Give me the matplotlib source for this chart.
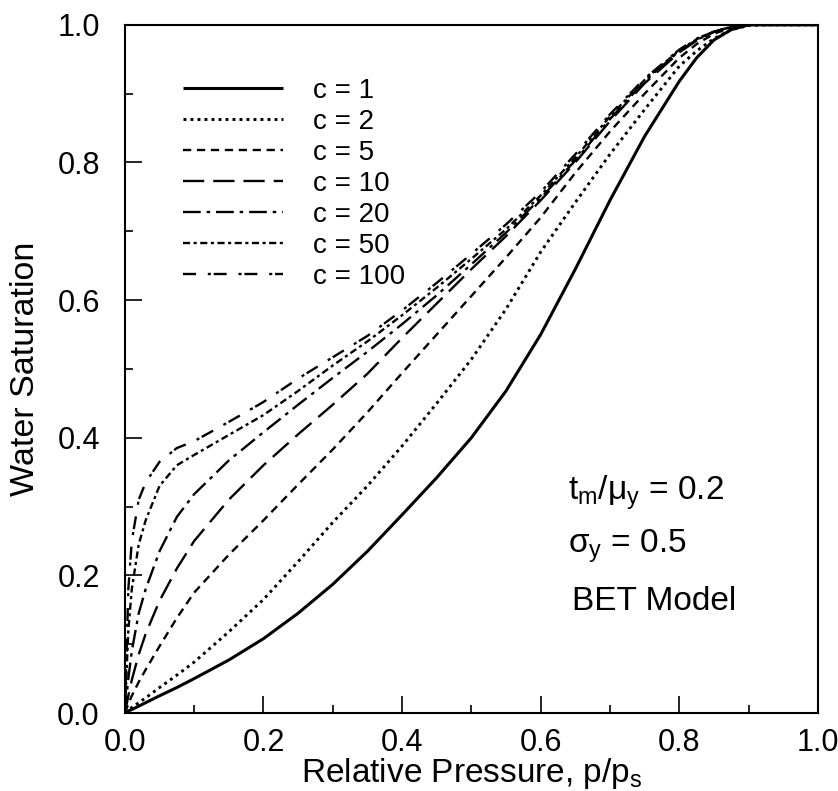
import matplotlib
matplotlib.use('Agg')
import matplotlib.pyplot as plt

plt.rcParams['font.family'] = ['Liberation Sans', 'DejaVu Sans']
plt.rcParams['mathtext.fontset'] = 'custom'
plt.rcParams['mathtext.rm'] = 'Liberation Sans'
plt.rcParams['mathtext.it'] = 'Liberation Sans'

# relative pressure p/ps
p = [0, 0.005, 0.01, 0.02, 0.03, 0.05, 0.075, 0.1, 0.15, 0.2, 0.25, 0.3, 0.35, 0.4, 0.45,
     0.5, 0.55, 0.6, 0.65, 0.7, 0.75, 0.8, 0.825, 0.85, 0.875, 0.9, 0.925, 0.95, 1.0]

# water saturation for each BET constant c
s_c1 = [0, 0.003, 0.005, 0.01, 0.015, 0.025, 0.037, 0.05, 0.077, 0.108, 0.145, 0.187, 0.235,
        0.288, 0.342, 0.40, 0.468, 0.55, 0.645, 0.745, 0.838, 0.918, 0.952, 0.978, 0.993,
        1.0, 1.0, 1.0, 1.0]
s_c2 = [0, 0.004, 0.008, 0.015, 0.022, 0.037, 0.055, 0.074, 0.118, 0.165, 0.22, 0.277, 0.33,
        0.388, 0.45, 0.514, 0.587, 0.67, 0.742, 0.812, 0.877, 0.94, 0.962, 0.98, 0.993,
        0.999, 1.0, 1.0, 1.0]
s_c5 = [0, 0.013, 0.025, 0.045, 0.063, 0.097, 0.138, 0.175, 0.23, 0.28, 0.332, 0.383, 0.437,
        0.494, 0.55, 0.606, 0.662, 0.72, 0.785, 0.845, 0.90, 0.952, 0.972, 0.987, 0.996,
        1.0, 1.0, 1.0, 1.0]
s_c10 = [0, 0.025, 0.048, 0.085, 0.115, 0.163, 0.21, 0.25, 0.31, 0.36, 0.405, 0.448, 0.493,
         0.545, 0.595, 0.645, 0.693, 0.745, 0.80, 0.86, 0.915, 0.96, 0.977, 0.99, 0.997,
         1.0, 1.0, 1.0, 1.0]
s_c20 = [0, 0.05, 0.09, 0.145, 0.18, 0.235, 0.285, 0.318, 0.367, 0.408, 0.448, 0.487, 0.525,
         0.565, 0.607, 0.652, 0.698, 0.748, 0.803, 0.863, 0.918, 0.962, 0.978, 0.99, 0.997,
         1.0, 1.0, 1.0, 1.0]
s_c50 = [0, 0.12, 0.18, 0.245, 0.28, 0.33, 0.36, 0.375, 0.404, 0.433, 0.468, 0.505, 0.54,
         0.578, 0.618, 0.66, 0.703, 0.752, 0.807, 0.867, 0.92, 0.963, 0.979, 0.99, 0.997,
         1.0, 1.0, 1.0, 1.0]
s_c100 = [0, 0.18, 0.25, 0.31, 0.335, 0.365, 0.385, 0.395, 0.423, 0.452, 0.486, 0.517, 0.548,
          0.585, 0.625, 0.667, 0.71, 0.757, 0.812, 0.87, 0.922, 0.964, 0.98, 0.99, 0.997,
          1.0, 1.0, 1.0, 1.0]

series = [s_c1, s_c2, s_c5, s_c10, s_c20, s_c50, s_c100]
labels = ['c = 1', 'c = 2', 'c = 5', 'c = 10', 'c = 20', 'c = 50', 'c = 100']

# line styles (dash patterns in units of line width)
styles = [
    dict(ls='-', lw=2.2),
    dict(ls=(0, (1, 1.4)), lw=2.1),
    dict(ls=(0, (3.5, 2.4)), lw=1.7),
    dict(ls=(0, (9, 3.8)), lw=1.7),
    dict(ls=(0, (7.5, 2.5, 1.5, 2.5)), lw=1.7),
    dict(ls=(0, (3, 1.5, 1.3, 1.5)), lw=1.7),
    dict(ls=(0, (5.5, 5, 1.3, 1.2)), lw=1.7),
]

fig = plt.figure(figsize=(8.38, 7.91), dpi=100)
ax = fig.add_axes([0.149, 0.0986, 0.827, 0.870])

for y, lab, st in zip(series, labels, styles):
    ax.plot(p, y, color='black', label=lab, solid_capstyle='butt',
            dash_capstyle='butt', **st)

ax.set_xlim(0, 1)
ax.set_ylim(0, 1)
ax.set_xticks([0, 0.2, 0.4, 0.6, 0.8, 1.0])
ax.set_yticks([0, 0.2, 0.4, 0.6, 0.8, 1.0])
ax.set_xticks([0.1, 0.3, 0.5, 0.7, 0.9], minor=True)
ax.set_yticks([0.1, 0.3, 0.5, 0.7, 0.9], minor=True)
ax.tick_params(which='both', direction='in', top=False, right=False, width=1.2)
ax.tick_params(axis='y', which='major', length=12, labelsize=22, pad=18)
ax.tick_params(axis='x', which='major', length=12, labelsize=22, pad=11)
ax.tick_params(which='minor', length=5.5)
ax.xaxis.set_major_formatter(plt.FormatStrFormatter('%.1f'))
ax.yaxis.set_major_formatter(plt.FormatStrFormatter('%.1f'))
for sp in ax.spines.values():
    sp.set_linewidth(1.5)

ax.set_xlabel(r'Relative Pressure, p/p$_\mathregular{s}$', fontsize=24, labelpad=-2)
ax.set_ylabel('Water Saturation', fontsize=24.5, labelpad=12)

ax.text(0.639, 0.31, r'$\mathregular{t_m/\mu_y}$ = 0.2', fontsize=24, va='baseline')
ax.text(0.639, 0.233, r'$\mathregular{\sigma_y}$ = 0.5', fontsize=24, va='baseline')
ax.text(0.645, 0.15, 'BET Model', fontsize=24, va='baseline')

ax.legend(loc='upper left', bbox_to_anchor=(0.084, 0.923), frameon=False,
          fontsize=20, handlelength=3.6, handletextpad=1.08, labelspacing=0.18,
          borderaxespad=0, borderpad=0)

fig.savefig('out.png', dpi=100)
